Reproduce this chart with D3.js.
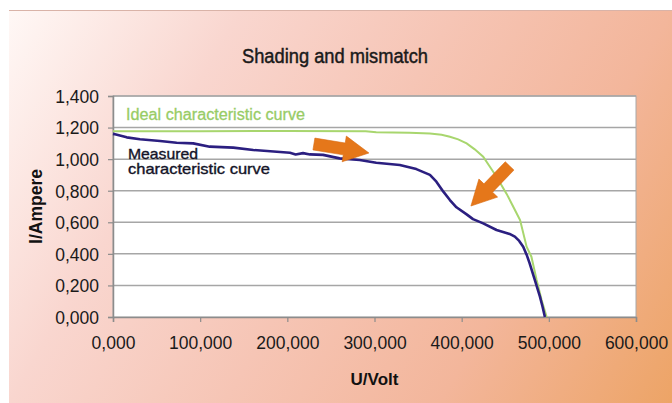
<!DOCTYPE html>
<html><head><meta charset="utf-8">
<script src="https://cdn.jsdelivr.net/npm/d3@7"></script>
<style>html,body{margin:0;padding:0;background:#fff;overflow:hidden}</style>
</head><body><svg id="c" width="672" height="403"></svg>
<script>
// ---- data ----
const xTicks = [0, 100000, 200000, 300000, 400000, 500000, 600000];
const xTickLabels = ["0,000", "100,000", "200,000", "300,000", "400,000", "500,000", "600,000"];
const yTicks = [0, 0.2, 0.4, 0.6, 0.8, 1.0, 1.2, 1.4];
const yTickLabels = ["0,000", "0,200", "0,400", "0,600", "0,800", "1,000", "1,200", "1,400"];

const idealU = [0, 100000, 200000, 290000, 302000, 340000, 363600, 377000, 386500, 396000, 405700, 415000, 424700, 432000, 440000, 451600, 463000, 467000, 474500, 480000, 486000, 491700, 497500];
const idealI = [1.177, 1.177, 1.178, 1.177, 1.170, 1.167, 1.163, 1.155, 1.142, 1.125, 1.100, 1.062, 1.015, 0.955, 0.889, 0.780, 0.657, 0.614, 0.445, 0.382, 0.234, 0.108, 0.0];

const measU = [0, 2300, 15700, 31000, 54000, 73000, 92000, 111000, 138000, 161000, 188000, 203000, 209500, 218000, 226000, 241000, 260000, 283000, 302000, 329000, 348000, 363600, 371000, 379000, 386500, 394000, 405700, 413000, 424700, 440000, 455000, 461000, 466000, 470600, 474500, 478000, 484000, 489800, 492800, 495500];
const measI = [1.160, 1.157, 1.138, 1.126, 1.115, 1.104, 1.100, 1.079, 1.073, 1.058, 1.047, 1.040, 1.030, 1.038, 1.030, 1.027, 1.005, 0.995, 0.977, 0.963, 0.937, 0.900, 0.857, 0.794, 0.741, 0.695, 0.650, 0.620, 0.593, 0.551, 0.526, 0.509, 0.482, 0.445, 0.395, 0.340, 0.234, 0.129, 0.065, 0.0];

const title = "Shading and mismatch";
const xTitle = "U/Volt";
const yTitle = "I/Ampere";
const idealLabel = "Ideal characteristic curve";
const measLabel = ["Measured", "characteristic curve"];

// arrows: [tailU, tailI, tipU, tipI]
const arrows = [[230500, 1.096, 293600, 1.039], [455000, 0.957, 410600, 0.703]];

// ---- layout ----
const W = 672, H = 403;
const m = {left: 113, right: 636, top: 96, bottom: 317};
const svg = d3.select("#c");
const x = d3.scaleLinear().domain([0, 600000]).range([m.left, m.right]);
const y = d3.scaleLinear().domain([0, 1.4]).range([m.bottom, m.top]);

// background gradient
const defs = svg.append("defs");
const g = defs.append("linearGradient").attr("id", "bg")
  .attr("gradientUnits", "userSpaceOnUse")
  .attr("x1", 9).attr("y1", 10).attr("x2", W).attr("y2", H);
[[0, "#fff8f6"], [0.26, "#f9d6cf"], [0.5, "#f6c5b5"], [0.74, "#f3b69b"], [1, "#eda466"]]
  .forEach(([o, c]) => g.append("stop").attr("offset", o).attr("stop-color", c));
svg.append("rect").attr("x", 0).attr("y", 0).attr("width", W).attr("height", H).attr("fill", "#fff");
svg.append("rect").attr("x", 9).attr("y", 10).attr("width", W - 9).attr("height", H - 10).attr("fill", "url(#bg)");
svg.append("line").attr("x1", 9).attr("x2", W).attr("y1", 10.5).attr("y2", 10.5)
  .attr("stroke", "#d9b3a8").attr("stroke-width", 1);

// title
svg.append("text").attr("x", 335).attr("y", 63).attr("text-anchor", "middle")
  .attr("font-family", "'Liberation Sans Narrow','Arial Narrow',sans-serif")
  .attr("font-size", 20).attr("fill", "#1a1a1a")
  .attr("stroke", "#1a1a1a").attr("stroke-width", 0.45)
  .attr("textLength", 186).attr("lengthAdjust", "spacingAndGlyphs")
  .text(title);

// plot area
svg.append("rect").attr("x", m.left).attr("y", m.top).attr("width", m.right - m.left).attr("height", m.bottom - m.top)
  .attr("fill", "#fff").attr("stroke", "#a8a8a8").attr("stroke-width", 1);

// gridlines
svg.append("g").selectAll("line").data(yTicks.filter(d => d > 0)).join("line")
  .attr("x1", m.left).attr("x2", m.right)
  .attr("y1", d => y(d)).attr("y2", d => y(d))
  .attr("stroke", "#a6a6a6").attr("stroke-width", 1.5);

// axes
const yAxis = d3.axisLeft(y).tickValues(yTicks).tickSize(5).tickPadding(9)
  .tickFormat((d, i) => yTickLabels[i]);
const ya = svg.append("g").attr("transform", `translate(${m.left},0)`).call(yAxis);
const xAxis = d3.axisBottom(x).tickValues(xTicks).tickSize(5).tickPadding(15)
  .tickFormat((d, i) => xTickLabels[i]);
const xa = svg.append("g").attr("transform", `translate(0,${m.bottom})`).call(xAxis);
[ya, xa].forEach(a => {
  a.select(".domain").attr("stroke", "#8c8c8c").attr("stroke-width", 1.5);
  a.selectAll(".tick line").attr("stroke", "#8c8c8c").attr("stroke-width", 1.2);
  a.selectAll("text").attr("font-family", "'Liberation Sans',Arial,sans-serif")
    .attr("font-size", 17.5).attr("fill", "#1a1a1a");
});
ya.selectAll("text").attr("dy", "0.36em");

// axis titles
svg.append("text").attr("x", (m.left + m.right) / 2).attr("y", 385).attr("text-anchor", "middle")
  .attr("font-family", "'Liberation Sans',Arial,sans-serif").attr("font-weight", "bold")
  .attr("font-size", 17).attr("fill", "#111").text(xTitle);
svg.append("text").attr("transform", `translate(42,${(m.top + m.bottom) / 2}) rotate(-90)`)
  .attr("text-anchor", "middle")
  .attr("font-family", "'Liberation Sans',Arial,sans-serif").attr("font-weight", "bold")
  .attr("font-size", 17.5).attr("fill", "#111").text(yTitle);

// lines
const line = d3.line().x(d => x(d[0])).y(d => y(d[1]));
svg.append("path").datum(idealU.map((u, i) => [u, idealI[i]]))
  .attr("d", line).attr("fill", "none").attr("stroke", "#a8d66e").attr("stroke-width", 2);
svg.append("path").datum(measU.map((u, i) => [u, measI[i]]))
  .attr("d", line).attr("fill", "none").attr("stroke", "#2b1f80").attr("stroke-width", 2.6)
  .attr("stroke-linejoin", "round");

// annotation labels
const narrow = "'Liberation Sans Narrow','Arial Narrow',sans-serif";
svg.append("text").attr("x", x(15000)).attr("y", y(1.247))
  .attr("font-family", narrow).attr("font-size", 16).attr("fill", "#98cc66")
  .attr("stroke", "#98cc66").attr("stroke-width", 0.3)
  .attr("textLength", 179).attr("lengthAdjust", "spacingAndGlyphs").text(idealLabel);
svg.append("text").attr("x", x(17200)).attr("y", y(1.003))
  .attr("font-family", narrow).attr("font-size", 14.5).attr("fill", "#141428")
  .attr("stroke", "#141428").attr("stroke-width", 0.35)
  .attr("textLength", 70).attr("lengthAdjust", "spacingAndGlyphs").text(measLabel[0]);
svg.append("text").attr("x", x(17200)).attr("y", y(0.904))
  .attr("font-family", narrow).attr("font-size", 14.5).attr("fill", "#141428")
  .attr("stroke", "#141428").attr("stroke-width", 0.35)
  .attr("textLength", 142).attr("lengthAdjust", "spacingAndGlyphs").text(measLabel[1]);

// arrows
function arrowPath(a) {
  const tx = x(a[0]), ty = y(a[1]), px = x(a[2]), py = y(a[3]);
  const dx = px - tx, dy = py - ty, len = Math.hypot(dx, dy);
  const ux = dx / len, uy = dy / len, nx = -uy, ny = ux;
  const w = 6, h = 13, L = 25;
  const bx = px - ux * L, by = py - uy * L;
  const pts = [[tx + nx * w, ty + ny * w], [bx + nx * w, by + ny * w], [bx + nx * h, by + ny * h], [px, py],
    [bx - nx * h, by - ny * h], [bx - nx * w, by - ny * w], [tx - nx * w, ty - ny * w]];
  return "M" + pts.map(p => p.join(",")).join("L") + "Z";
}
svg.append("g").selectAll("path").data(arrows).join("path")
  .attr("d", arrowPath).attr("fill", "#e5771a").attr("stroke", "#d8690f").attr("stroke-width", 0.6);
</script></body></html>
